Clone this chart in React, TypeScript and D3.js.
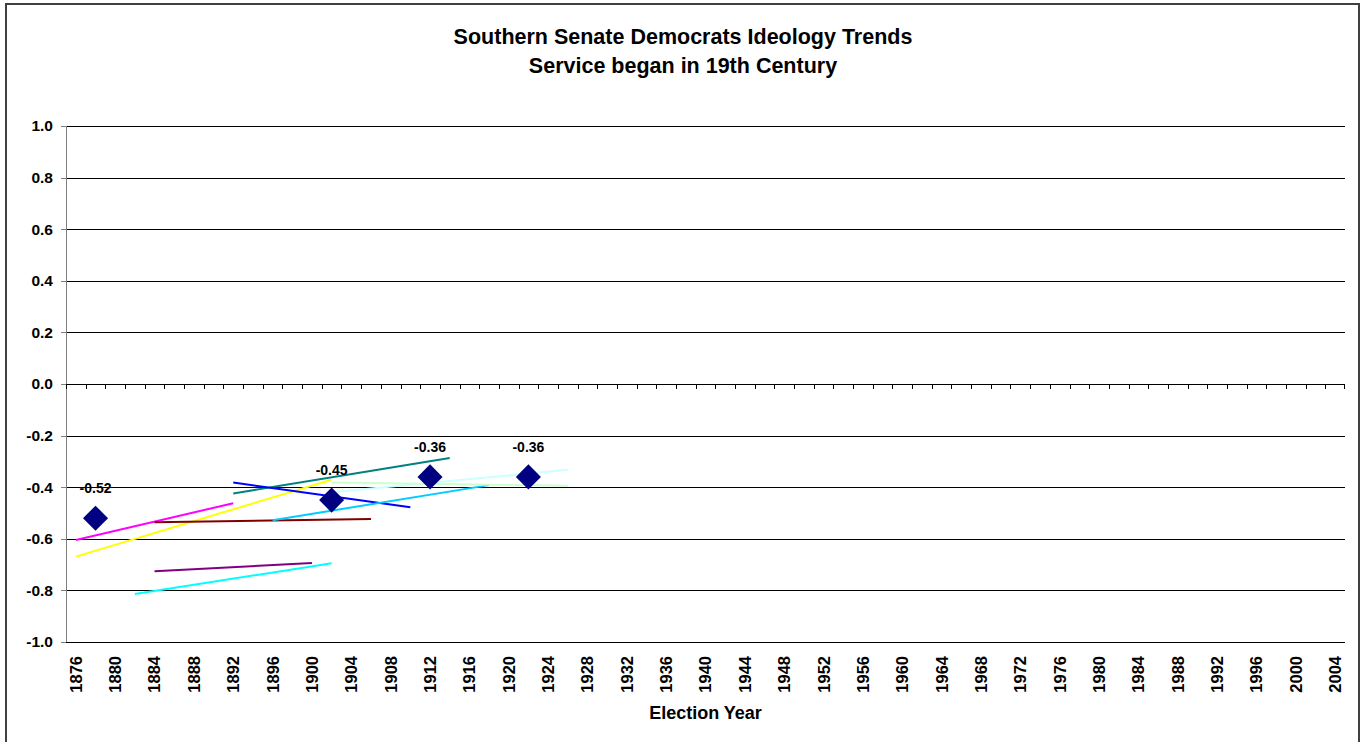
import React from "react";
import * as d3 from "d3";

const years: string[] = [
  "1876","1878","1880","1882","1884","1886","1888","1890","1892","1894",
  "1896","1898","1900","1902","1904","1906","1908","1910","1912","1914",
  "1916","1918","1920","1922","1924","1926","1928","1930","1932","1934",
  "1936","1938","1940","1942","1944","1946","1948","1950","1952","1954",
  "1956","1958","1960","1962","1964","1966","1968","1970","1972","1974",
  "1976","1978","1980","1982","1984","1986","1988","1990","1992","1994",
  "1996","1998","2000","2002","2004",
];
const yTicks: number[] = [1.0, 0.8, 0.6, 0.4, 0.2, 0.0, -0.2, -0.4, -0.6, -0.8, -1.0];

// average points (diamonds)
const avgYears: string[] = ["1878", "1902", "1912", "1922"];
const avgValues: number[] = [-0.52, -0.45, -0.36, -0.36];

// individual trend lines
const trendStartYear: string[] = ["1876", "1876", "1884", "1884", "1882", "1892", "1892", "1896", "1902", "1902"];
const trendEndYear: string[] = ["1892", "1902", "1906", "1900", "1902", "1914", "1910", "1918", "1926", "1926"];
const trendStartValue: number[] = [-0.605, -0.669, -0.536, -0.726, -0.814, -0.424, -0.382, -0.528, -0.42, -0.382];
const trendEndValue: number[] = [-0.462, -0.371, -0.523, -0.694, -0.695, -0.287, -0.478, -0.392, -0.332, -0.394];

const trendColors = ["#FF00FF", "#FFFF00", "#800000", "#800080", "#00FFFF", "#008080", "#0000FF", "#00CCFF", "#CCFFFF", "#CCFFCC"];

const W = 1365;
const H = 742;
const plotLeft = 66;
const plotRight = 1345;
const plotTop = 126;
const plotBottom = 642;
const FONT = "Liberation Sans, Arial, sans-serif";

export default function App() {
  const x = d3.scaleBand<string>().domain(years).range([plotLeft, plotRight]).paddingInner(0).paddingOuter(0);
  const y = d3.scaleLinear().domain([-1, 1]).range([plotBottom, plotTop]);
  const cx = (yr: string) => (x(yr) as number) + x.bandwidth() / 2;
  const line = d3.line<[number, number]>().x((d) => d[0]).y((d) => d[1]);
  const diamond = d3.symbol().type(d3.symbolDiamond2).size(400);

  return (
    <svg width={W} height={H} style={{ position: "absolute", left: 0, top: 0, background: "#fff" }} fontFamily={FONT}>
      <rect x={6} y={4} width={1353} height={760} fill="#fff" stroke="#404040" strokeWidth={2} />
      <text x={683} y={44} textAnchor="middle" fontSize={21.5} fontWeight="bold">Southern Senate Democrats Ideology Trends</text>
      <text x={683} y={73} textAnchor="middle" fontSize={21.5} fontWeight="bold">Service began in 19th Century</text>

      {/* gridlines */}
      {yTicks.map((t) => (
        <line key={"g" + t} x1={plotLeft} x2={plotRight} y1={Math.round(y(t)) + 0.5} y2={Math.round(y(t)) + 0.5} stroke="#000" strokeWidth={1} />
      ))}
      {/* y axis */}
      <line x1={plotLeft + 0.5} x2={plotLeft + 0.5} y1={plotTop} y2={plotBottom} stroke="#808080" strokeWidth={1} />
      {yTicks.map((t) => (
        <g key={"yt" + t}>
          <line x1={plotLeft - 5} x2={plotLeft} y1={Math.round(y(t)) + 0.5} y2={Math.round(y(t)) + 0.5} stroke="#808080" />
          <text x={53} y={y(t)} dy="0.35em" textAnchor="end" fontSize={15.5} fontWeight="bold">{t.toFixed(1)}</text>
        </g>
      ))}
      {/* x axis at zero */}
      {years.map((yr) => (
        <line key={"xt" + yr} x1={Math.round(x(yr) as number) + 0.5} x2={Math.round(x(yr) as number) + 0.5} y1={y(0)} y2={y(0) + 5} stroke="#000" />
      ))}
      <line x1={plotRight - 0.5} x2={plotRight - 0.5} y1={y(0)} y2={y(0) + 5} stroke="#000" />
      {years.filter((_, i) => i % 2 === 0).map((yr) => (
        <text key={"xl" + yr} transform={`translate(${cx(yr)},656) rotate(-90)`} dy="0.36em" textAnchor="end" fontSize={16.5} fontWeight="bold">{yr}</text>
      ))}
      <text x={(plotLeft + plotRight) / 2} y={719} textAnchor="middle" fontSize={18} fontWeight="bold">Election Year</text>

      {/* trend lines */}
      {trendStartYear.map((s, i) => (
        <path key={"tr" + i} d={line([[cx(s), y(trendStartValue[i])], [cx(trendEndYear[i]), y(trendEndValue[i])]]) as string} stroke={trendColors[i]} strokeWidth={2} fill="none" />
      ))}

      {/* diamonds */}
      {avgYears.map((yr, i) => (
        <g key={"d" + yr}>
          <path d={diamond() as string} transform={`translate(${cx(yr)},${y(avgValues[i])})`} fill="#000080" />
          <text x={cx(yr)} y={y(avgValues[i]) - 25} textAnchor="middle" fontSize={14} fontWeight="bold">{avgValues[i].toFixed(2)}</text>
        </g>
      ))}
    </svg>
  );
}
